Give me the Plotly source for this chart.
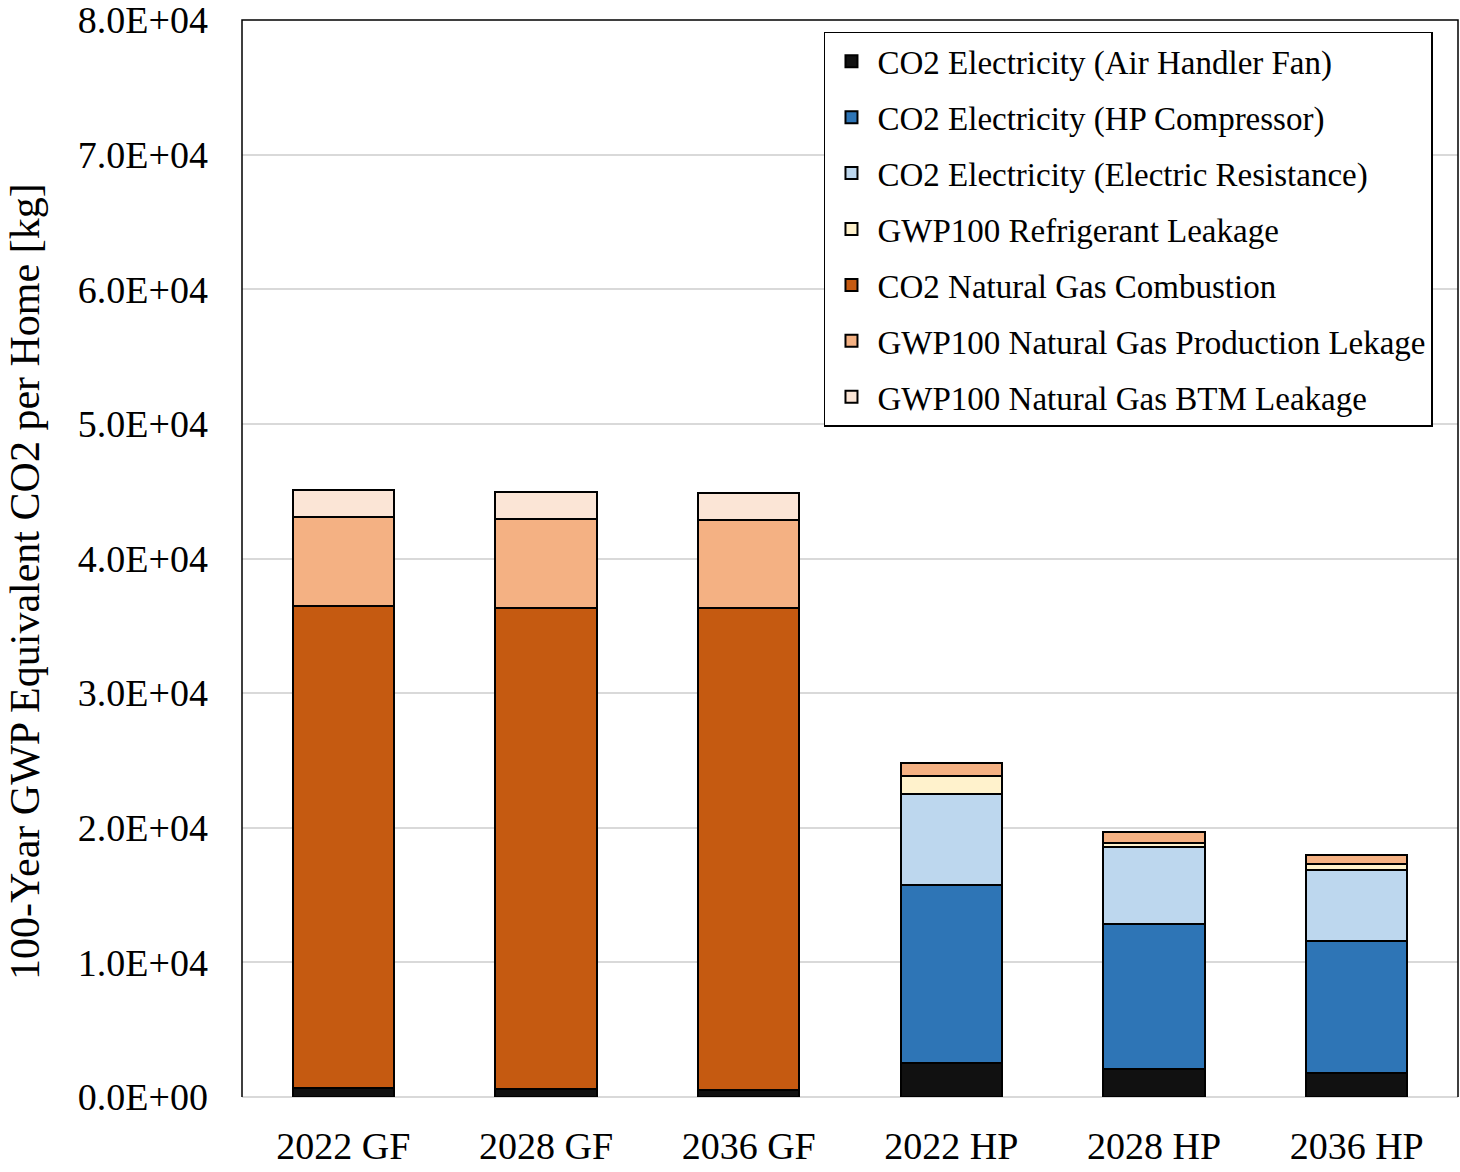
import plotly.graph_objects as go

# categories
cases = ["2022 GF", "2028 GF", "2036 GF", "2022 HP", "2028 HP", "2036 HP"]

# emissions per home [kg CO2 eq]
fan = [700, 560, 520, 2510, 2060, 1820]
compressor = [0, 0, 0, 13240, 10820, 9800]
resistance = [0, 0, 0, 6760, 5670, 5270]
refrigerant = [0, 0, 0, 1340, 340, 390]
combustion = [35770, 35780, 35820, 0, 0, 0]
production = [6600, 6580, 6550, 960, 800, 700]
btm = [2010, 2010, 1970, 0, 0, 0]

y_ticks = [0, 10000, 20000, 30000, 40000, 50000, 60000, 70000, 80000]
y_ticktext = ["0.0E+00", "1.0E+04", "2.0E+04", "3.0E+04", "4.0E+04",
              "5.0E+04", "6.0E+04", "7.0E+04", "8.0E+04"]

series = [
    ("CO2 Electricity (Air Handler Fan)", fan, "#111111"),
    ("CO2 Electricity (HP Compressor)", compressor, "#2E75B6"),
    ("CO2 Electricity (Electric Resistance)", resistance, "#BDD7EE"),
    ("GWP100 Refrigerant Leakage", refrigerant, "#FFF2CC"),
    ("CO2 Natural Gas Combustion", combustion, "#C55A11"),
    ("GWP100 Natural Gas Production Lekage", production, "#F4B183"),
    ("GWP100 Natural Gas BTM Leakage", btm, "#FBE5D6"),
]

font = "Liberation Serif, Times New Roman, serif"

fig = go.Figure()
for i, (name, vals, color) in enumerate(series):
    fig.add_trace(go.Bar(
        x=cases,
        y=vals,
        name=name,
        legendgroup="g%d" % i,  # one group per trace so tracegroupgap spaces entries
        marker=dict(color=color, line=dict(color="black", width=2)),
    ))

# border on top, left and right of the plot area (bottom stays grey)
fig.add_shape(type="path", xref="paper", yref="paper",
              path="M 0,0 L 0,1 L 1,1 L 1,0",
              line=dict(color="black", width=1.5), layer="above")

# y axis title, placed a little below the plot centre like the original
fig.add_annotation(
    text="100-Year GWP Equivalent CO2 per Home [kg]",
    xref="paper", yref="paper", x=-0.1785, y=0.479,
    xanchor="center", yanchor="middle",
    textangle=-90, showarrow=False,
    font=dict(family=font, size=42, color="black"),
)

fig.update_layout(
    width=1460,
    height=1172,
    barmode="stack",
    bargap=0.5,
    plot_bgcolor="white",
    paper_bgcolor="white",
    margin=dict(l=242, r=2, t=20, b=75),
    font=dict(family=font, size=38, color="black"),
    showlegend=True,
    legend=dict(
        x=0.4786, y=0.989, xanchor="left", yanchor="top",
        traceorder="grouped",
        tracegroupgap=10,
        itemwidth=42,
        bgcolor="white",
        bordercolor="black", borderwidth=1.5,
        font=dict(family=font, size=33, color="black"),
    ),
    xaxis=dict(
        showgrid=False,
        showline=False,
        ticks="",
        automargin=False,
        ticklabelstandoff=23,
        tickfont=dict(size=38),
    ),
    yaxis=dict(
        range=[0, 80000],
        tickvals=y_ticks,
        ticktext=y_ticktext,
        showgrid=True,
        gridcolor="#D9D9D9",
        gridwidth=1.5,
        zeroline=True,
        zerolinecolor="#D9D9D9",
        zerolinewidth=1.5,
        showline=False,
        ticks="",
        automargin=False,
        ticklabeloverflow="allow",
        ticklabelstandoff=33,
        tickfont=dict(size=38),
    ),
)

# drop the default 8px page margin so the figure sits at the window origin
fig.write_html("out.html", config={"displayModeBar": False},
               post_script="document.body.style.margin = '0';")
